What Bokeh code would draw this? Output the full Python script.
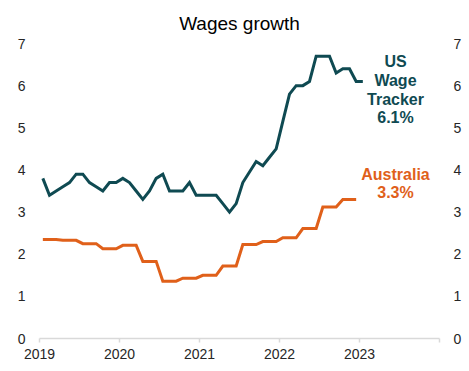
import numpy as np
from bokeh.plotting import figure
from bokeh.models import Range1d, LinearAxis, FixedTicker, ColumnDataSource
from bokeh.core.properties import value
from bokeh.embed import file_html
from bokeh.resources import INLINE

# ---- data (monthly, Jan 2019 onwards) ----
us_wage_tracker = [
    3.8, 3.4, 3.5, 3.6, 3.7, 3.9, 3.9, 3.7, 3.6, 3.5, 3.7, 3.7,   # 2019
    3.8, 3.7, 3.5, 3.3, 3.5, 3.8, 3.9, 3.5, 3.5, 3.5, 3.7, 3.4,   # 2020
    3.4, 3.4, 3.4, 3.2, 3.0, 3.2, 3.7, 3.95, 4.2, 4.1, 4.3, 4.5,  # 2021
    5.15, 5.8, 6.0, 6.0, 6.1, 6.7, 6.7, 6.7, 6.3, 6.4, 6.4, 6.1,  # 2022
    6.1,                                                          # 2023
]
australia_wpi = [
    2.35, 2.35, 2.35, 2.33, 2.33, 2.33, 2.25, 2.25, 2.25, 2.13, 2.13, 2.13,  # 2019
    2.21, 2.21, 2.21, 1.83, 1.83, 1.83, 1.36, 1.36, 1.36, 1.43, 1.43, 1.43,  # 2020
    1.50, 1.50, 1.50, 1.72, 1.72, 1.72, 2.23, 2.23, 2.23, 2.30, 2.30, 2.30,  # 2021
    2.39, 2.39, 2.39, 2.61, 2.61, 2.61, 3.12, 3.12, 3.12, 3.30, 3.30, 3.30,  # 2022
]
start_year = 2019
year_ticks = [2019, 2020, 2021, 2022, 2023, 2024]
year_labels = {2019: "2019", 2020: "2020", 2021: "2021", 2022: "2022", 2023: "2023", 2024: ""}
y_ticks = [0, 1, 2, 3, 4, 5, 6, 7]
us_label = "US\nWage\nTracker\n6.1%"
au_label = "Australia\n3.3%"
title_text = "Wages growth"

US_COLOR = "#0f4a52"
AU_COLOR = "#e0601a"
TEXT_COLOR = "#262626"
FONT = "Liberation Sans"

# x position: mid-month as decimal year
us_x = start_year + (np.arange(len(us_wage_tracker)) + 0.5) / 12
au_x = start_year + (np.arange(len(australia_wpi)) + 0.5) / 12

p = figure(width=469, height=371, output_backend="svg", toolbar_location=None,
           x_range=Range1d(2019, 2024), y_range=Range1d(0, 7),
           min_border_left=39, min_border_right=30, min_border_top=43, min_border_bottom=33)
p.outline_line_color = None
p.grid.visible = False
p.background_fill_color = "white"
p.border_fill_color = "white"

p.title.text = title_text
p.title.align = "center"
p.title.text_font = FONT
p.title.text_font_size = "19px"
p.title.text_font_style = "normal"
p.title.text_color = "#000000"
p.title.standoff = 20

p.line(us_x, us_wage_tracker, line_color=US_COLOR, line_width=3, line_join="miter")
p.line(au_x, australia_wpi, line_color=AU_COLOR, line_width=3, line_join="miter")

# annotations (positions in data coords)
src = ColumnDataSource(dict(x=[2023.45, 2023.45], y=[5.9, 3.68], t=[us_label, au_label], c=[US_COLOR, AU_COLOR]))
p.text(x="x", y="y", text="t", text_color="c", source=src, text_align="center",
       text_baseline="middle", text_font=value(FONT), text_font_size="16px",
       text_font_style="bold", text_line_height=1.1)

# x axis
xa = p.xaxis[0]
xa.ticker = FixedTicker(ticks=year_ticks)
xa.major_label_overrides = year_labels
xa.minor_tick_line_color = None
xa.axis_line_color = "#d9d9d9"
xa.axis_line_width = 1.5
xa.major_tick_line_color = "#d9d9d9"
xa.major_tick_line_width = 1.5
xa.major_tick_in = 0
xa.major_tick_out = 4
xa.major_label_standoff = 6
xa.major_label_text_font = FONT
xa.major_label_text_font_size = "14px"
xa.major_label_text_color = TEXT_COLOR

# y axes
ya = p.yaxis[0]
yr = LinearAxis()
p.add_layout(yr, "right")
for ax in (ya, yr):
    ax.ticker = FixedTicker(ticks=y_ticks)
    ax.axis_line_color = None
    ax.major_tick_line_color = None
    ax.minor_tick_line_color = None
    ax.major_label_standoff = 8
    ax.major_label_text_font = FONT
    ax.major_label_text_font_size = "14px"
    ax.major_label_text_color = TEXT_COLOR

open("out.html", "w").write(file_html(p, INLINE))
